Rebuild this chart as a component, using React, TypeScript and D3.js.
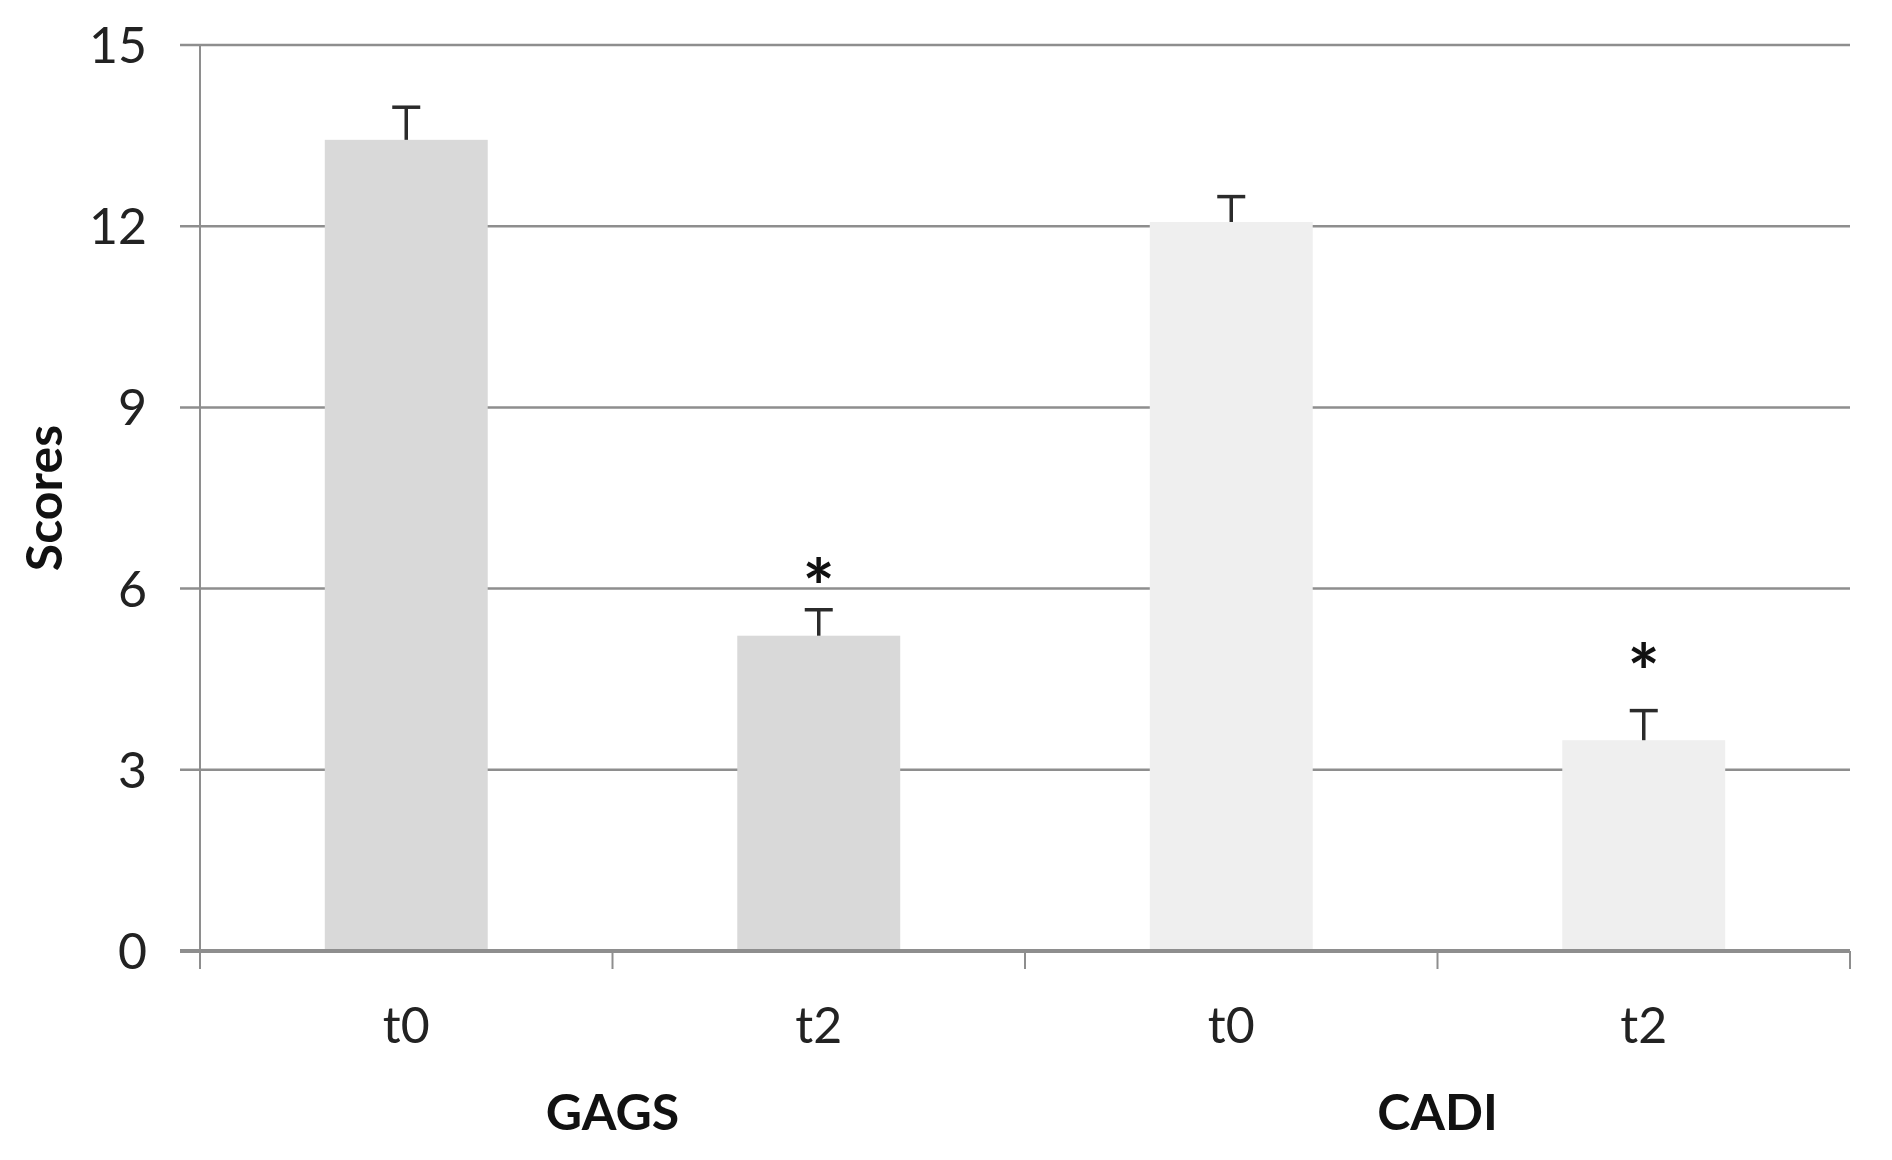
import React from 'react';
import * as d3 from 'd3';

// values
const categories = ['t0', 't2', 't0', 't2'];
const groups = ['GAGS', 'GAGS', 'CADI', 'CADI'];
const groupNames = ['GAGS', 'CADI'];
const means = [13.43, 5.22, 12.07, 3.49];
const errors = [0.54, 0.43, 0.42, 0.49];
const starAt = [null, 6.34, null, 4.93];
const yTicks = [0, 3, 6, 9, 12, 15];
const groupColors = { GAGS: '#d9d9d9', CADI: '#efefef' };

const W = 1892;
const H = 1160;
const left = 200, right = 1850, top = 45, bottom = 951;
const font = 'Lato, "Open Sans", sans-serif';
const fs = 50;

export default function App() {
  const x = d3.scaleBand<number>()
    .domain(categories.map((_, i) => i))
    .range([left, right])
    .paddingInner(0.605)
    .paddingOuter(0.3025);
  const y = d3.scaleLinear().domain([0, 15]).range([bottom, top]);
  const step = x.step();
  const bw = x.bandwidth();

  // boundaries between categories, for the tick marks under the axis
  const bounds = d3.range(categories.length + 1).map(i => left + i * step);

  return (
    <svg width={W} height={H} style={{ position: 'absolute', left: 0, top: 0, display: 'block', background: '#fff' }}>
      {/* gridlines */}
      {yTicks.filter(t => t > 0).map(t => (
        <line key={'g' + t} x1={180} x2={right} y1={y(t)} y2={y(t)} stroke="#8e8e8e" strokeWidth={2.5} />
      ))}
      {/* y axis */}
      <line x1={left} x2={left} y1={top} y2={bottom} stroke="#8e8e8e" strokeWidth={2} />
      {yTicks.map(t => (
        <text key={'yl' + t} x={147} y={y(t) + 0.36 * fs} textAnchor="end" fontFamily={font} fontSize={fs} fill="#222">{t}</text>
      ))}
      <text transform={`translate(62, ${(top + bottom) / 2}) rotate(-90)`} textAnchor="middle" fontFamily={font} fontWeight="bold" fontSize={fs} fill="#111">Scores</text>

      {/* bars */}
      {means.map((m, i) => (
        <rect key={'b' + i} x={x(i)} y={y(m)} width={bw} height={y(0) - y(m)} fill={groupColors[groups[i]]} />
      ))}

      {/* error bars (upper only) */}
      {means.map((m, i) => {
        const cx = (x(i) as number) + bw / 2;
        return (
          <g key={'e' + i} stroke="#2b2b2b" strokeWidth={3.5}>
            <line x1={cx} x2={cx} y1={y(m)} y2={y(m + errors[i])} />
            <line x1={cx - 14} x2={cx + 14} y1={y(m + errors[i])} y2={y(m + errors[i])} />
          </g>
        );
      })}

      {/* significance marks */}
      {starAt.map((s, i) => s == null ? null : (
        <text key={'s' + i} x={(x(i) as number) + bw / 2} y={y(s) + 47} textAnchor="middle" fontFamily={font} fontWeight="bold" fontSize={76} fill="#111">*</text>
      ))}

      {/* x axis */}
      <line x1={180} x2={right} y1={bottom} y2={bottom} stroke="#8e8e8e" strokeWidth={4} />
      {bounds.map((b, i) => (
        <line key={'t' + i} x1={b} x2={b} y1={bottom} y2={bottom + 18} stroke="#8e8e8e" strokeWidth={2} />
      ))}
      {categories.map((c, i) => (
        <text key={'xl' + i} x={(x(i) as number) + bw / 2} y={1043} textAnchor="middle" fontFamily={font} fontSize={fs} fill="#222">{c}</text>
      ))}
      {groupNames.map(g => {
        const idx = groups.map((gg, i) => gg === g ? i : -1).filter(i => i >= 0);
        const cx = d3.mean(idx, i => (x(i) as number) + bw / 2) as number;
        return (
          <text key={'gl' + g} x={cx} y={1130} textAnchor="middle" fontFamily={font} fontWeight="bold" fontSize={fs} fill="#111">{g}</text>
        );
      })}
    </svg>
  );
}
